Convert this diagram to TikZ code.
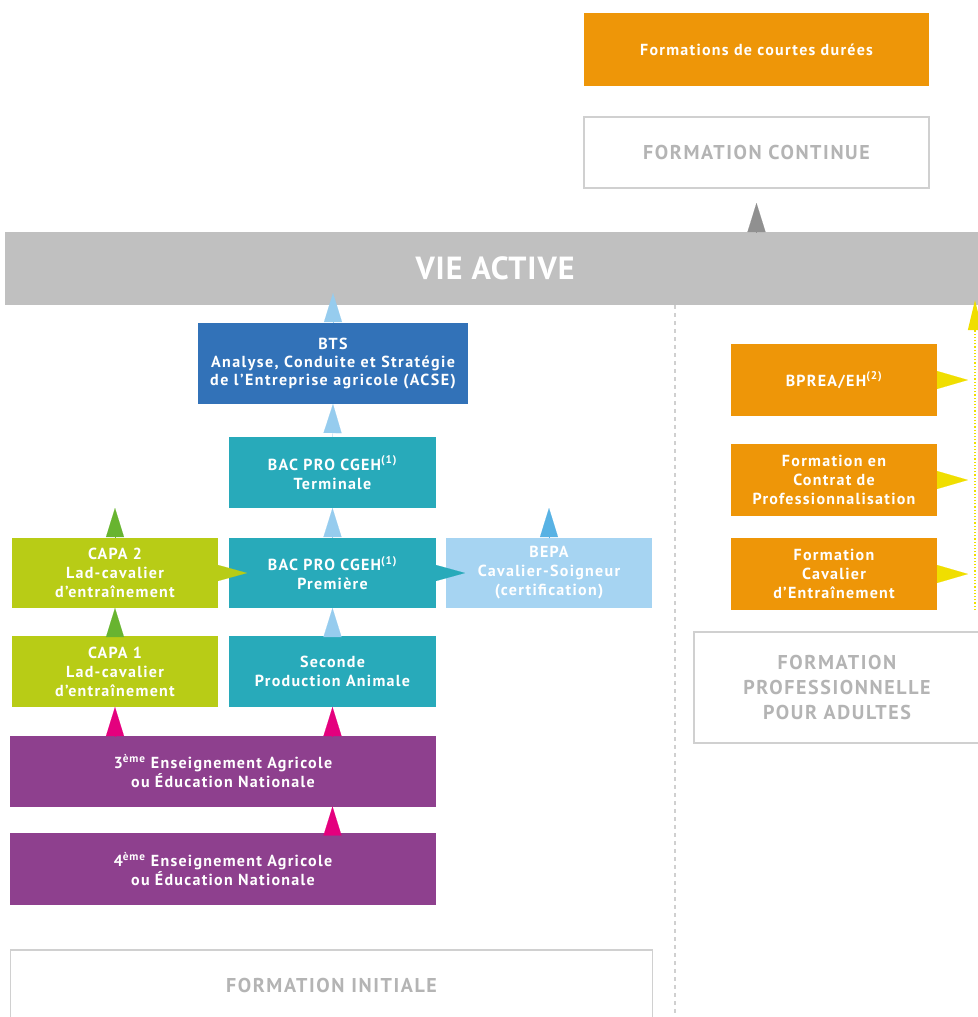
\documentclass[tikz,border=0pt]{standalone}
\usepackage{fontspec}
\setmainfont{PT Sans}
\usepackage{tikz}
\usetikzlibrary{positioning,arrows.meta,calc}

\definecolor{orangef}{RGB}{238,150,8}
\definecolor{grisbar}{RGB}{192,192,192}
\definecolor{grisbord}{RGB}{208,208,208}
\definecolor{gristexte}{RGB}{180,180,180}
\definecolor{bleubts}{RGB}{50,114,184}
\definecolor{turquoise}{RGB}{40,170,186}
\definecolor{bleuclair}{RGB}{166,212,242}
\definecolor{bleufleche}{RGB}{150,204,238}
\definecolor{bleubepa}{RGB}{88,178,228}
\definecolor{citron}{RGB}{184,204,22}
\definecolor{vertfleche}{RGB}{104,180,48}
\definecolor{violet}{RGB}{142,64,142}
\definecolor{rose}{RGB}{228,0,126}
\definecolor{jaune}{RGB}{240,222,0}

\begin{document}
\begin{tikzpicture}[
x=1pt,
y=-1pt,
box/.style={
  rectangle,
  fill=#1,
  text=white,
  font=\bfseries\fontsize{16}{19}\selectfont\addfontfeatures{LetterSpace=8},
  align=center,
  inner sep=0pt,
  outer sep=0pt
  },
titlebox/.style={
  rectangle,
  draw=grisbord,
  line width=1.2pt,
  fill=white,
  text=gristexte,
  font=\bfseries\fontsize{20}{25}\selectfont\addfontfeatures{LetterSpace=8},
  align=center,
  inner sep=0pt
  },
arr/.style={
  draw=#1,
  fill=#1,
  line width=0.1pt,
  -{Triangle[length=29pt,width=18pt]}
  },
>=latex
]
\useasboundingbox (0,0) rectangle (977,1017);

% formation continue
\node[box=orangef, minimum width=345pt, minimum height=73pt] at (756.5,49.5)
  (courte) {Formations de courtes durées};
\node[titlebox, minimum width=345pt, minimum height=71pt] at (756.5,152.5)
  (cont) {FORMATION CONTINUE};

% vie active
\node[box=grisbar, minimum width=980pt, minimum height=73pt,
  font=\bfseries\fontsize{32}{36}\selectfont\addfontfeatures{LetterSpace=3}] at (495,268.5)
  (vie) {VIE ACTIVE};

% separation
\coordinate (sephaut) at (675,305);
\coordinate (sepbas) at (675,1017);
\draw[grisbord, line width=1.2pt, dash pattern=on 4pt off 4pt] (sephaut) -- (sepbas);

% formation initiale
\node[box=bleubts, minimum width=270pt, minimum height=81pt,
  font=\bfseries\fontsize{16}{18}\selectfont\addfontfeatures{LetterSpace=9}] at (333,363.5)
  (bts) {BTS\\Analyse, Conduite et Stratégie\\de l'Entreprise agricole (ACSE)};
\node[box=turquoise, minimum width=207pt, minimum height=71pt] at (332.5,472.5)
  (term) {BAC PRO CGEH\textsuperscript{(1)}\\Terminale};
\node[box=turquoise, minimum width=207pt, minimum height=70pt] at (332.5,573)
  (prem) {BAC PRO CGEH\textsuperscript{(1)}\\Première};
\node[box=turquoise, minimum width=207pt, minimum height=71pt] at (332.5,671.5)
  (sec) {Seconde\\Production Animale};
\node[box=citron, minimum width=206pt, minimum height=70pt] at (115,573)
  (capb) {CAPA 2\\Lad-cavalier\\d'entraînement};
\node[box=citron, minimum width=206pt, minimum height=71pt] at (115,671.5)
  (capa) {CAPA 1\\Lad-cavalier\\d'entraînement};
\node[box=bleuclair, minimum width=206pt, minimum height=70pt] at (549,573)
  (bepa) {BEPA\\Cavalier-Soigneur\\(certification)};
\node[box=violet, minimum width=426pt, minimum height=71pt] at (223,771)
  (trois) {3\textsuperscript{ème} Enseignement Agricole\\ou Éducation Nationale};
\node[box=violet, minimum width=426pt, minimum height=72pt] at (223,869)
  (quatre) {4\textsuperscript{ème} Enseignement Agricole\\ou Éducation Nationale};
\node[titlebox, minimum width=642pt, minimum height=70pt] at (331.5,985)
  (init) {FORMATION INITIALE};

% formation adultes
\node[box=orangef, minimum width=206pt, minimum height=72pt] at (834,380)
  (bp) {BPREA/EH\textsuperscript{(2)}};
\node[box=orangef, minimum width=206pt, minimum height=72pt] at (834,480)
  (ctr) {Formation en\\Contrat de\\Professionnalisation};
\node[box=orangef, minimum width=206pt, minimum height=72pt] at (834,574)
  (cav) {Formation\\Cavalier\\d'Entraînement};
\node[titlebox, minimum width=286pt, minimum height=111pt] at (837,687.5)
  (adultes) {FORMATION\\PROFESSIONNELLE\\POUR ADULTES};

% fleches
\draw[arr=grisbar!75!black] (vie.north -| cont.south) -- ($(vie.north -| cont.south)+(0pt,29pt)$);
\draw[arr=bleufleche] (bts.north) -- ($(bts.north)+(0pt,30pt)$);
\draw[arr=bleufleche] (term.north) -- (bts.south);
\draw[arr=bleufleche] (prem.north) -- (term.south);
\draw[arr=bleufleche] (sec.north) -- (prem.south);
\draw[arr=bleubepa] (bepa.north) -- ($(bepa.north)+(0pt,30pt)$);
\draw[arr=vertfleche] (capb.north) -- ($(capb.north)+(0pt,30pt)$);
\draw[arr=vertfleche] (capa.north) -- (capb.south);
\draw[arr=citron, -{Triangle[length=29pt,width=16pt]}] (capb.east) -- ($(capb.east)+(29pt,0pt)$);
\draw[arr=turquoise, -{Triangle[length=29pt,width=16pt]}] (prem.east) -- ($(prem.east)+(29pt,0pt)$);
\draw[arr=rose] (trois.north -| capa.south) -- (capa.south);
\draw[arr=rose] (trois.north -| sec.south) -- (sec.south);
\draw[arr=rose] (quatre.north -| sec.south) -- (trois.south -| sec.south);

% fleches jaunes
\coordinate (jbas) at (975,610);
\coordinate (jhaut) at (975,300);
\draw[jaune, line width=1.2pt, dotted, -{Triangle[length=30pt,width=14pt]}] (jbas) -- (jhaut);
\foreach \b in {bp,ctr,cav}
{\draw[arr=jaune, -{Triangle[length=31pt,width=18pt]}] (\b.east) -- ($(\b.east)+(31pt,0pt)$);
}
\end{tikzpicture}
\end{document}
